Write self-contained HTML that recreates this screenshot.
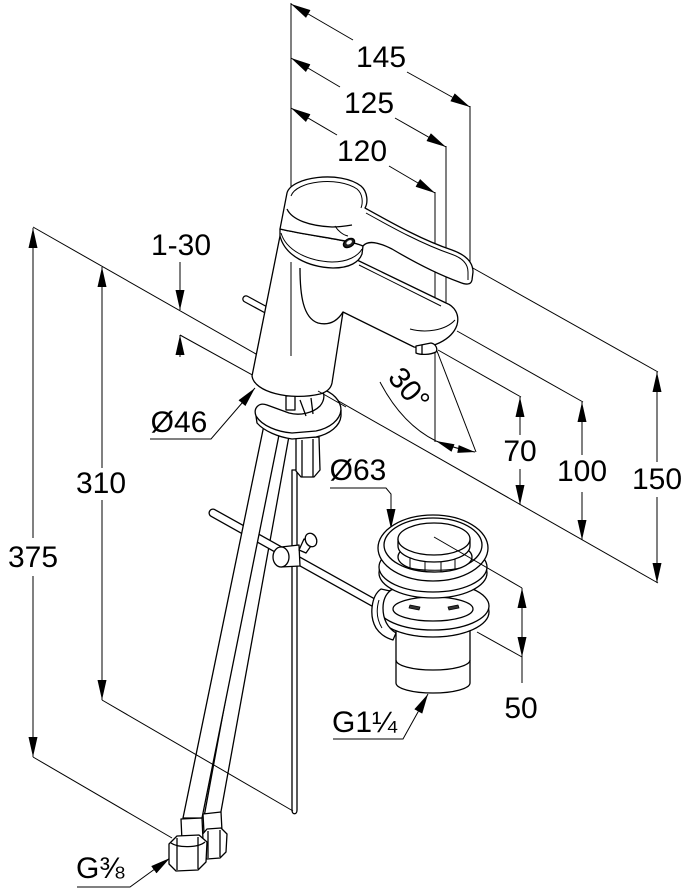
<!DOCTYPE html>
<html><head><meta charset="utf-8"><style>
html,body{margin:0;padding:0;background:#fff;}
svg{display:block;}
text{font-family:"Liberation Sans",Arial,sans-serif;font-size:30px;fill:#000;stroke:none;}
</style></head><body>
<svg width="686" height="895" viewBox="0 0 686 895" xmlns="http://www.w3.org/2000/svg">
<defs>
<marker id="a" markerUnits="userSpaceOnUse" markerWidth="20" markerHeight="10" viewBox="0 0 20 10" refX="20" refY="5" orient="auto-start-reverse"><path d="M0,0.5L20,5L0,9.5Z" fill="#000" stroke="none"/></marker>
<clipPath id="op"><ellipse cx="435" cy="557" rx="37" ry="15"/></clipPath>
</defs>

<!-- ===== dimension & extension lines ===== -->
<g fill="none" stroke="#000" stroke-width="1">
 <line x1="291" y1="3" x2="291" y2="356"/>
 <path d="M353,40 L291,4" marker-end="url(#a)"/>
 <path d="M407,72 L470,107" marker-end="url(#a)"/>
 <line x1="470" y1="106" x2="470" y2="268"/>
 <path d="M340,87 L291,58" marker-end="url(#a)"/>
 <path d="M395,118 L446,147" marker-end="url(#a)"/>
 <line x1="446" y1="146" x2="446" y2="324"/>
 <path d="M337,135 L291,108" marker-end="url(#a)"/>
 <path d="M389,166 L435,193" marker-end="url(#a)"/>
 <line x1="435" y1="192" x2="435" y2="442"/>

 <line x1="438" y1="350" x2="521" y2="397"/>
 <line x1="457" y1="331" x2="583" y2="402"/>
 <line x1="471" y1="267" x2="658" y2="372"/>
 <line x1="33" y1="227" x2="658" y2="583"/>
 <path d="M520,435 L520,397" marker-end="url(#a)"/>
 <path d="M520,469 L520,505" marker-end="url(#a)"/>
 <path d="M582,455 L582,402" marker-end="url(#a)"/>
 <path d="M582,492 L582,540" marker-end="url(#a)"/>
 <path d="M657,462 L657,372" marker-end="url(#a)"/>
 <path d="M657,497 L657,583" marker-end="url(#a)"/>

 <!-- 30 deg -->
 <line x1="437" y1="351" x2="476" y2="452"/>
 <path d="M380,382 C392,405 410,428 436,441"/>
 <path d="M436,441 Q456,449 475,452"/>

 <!-- 1-30 -->
 <path d="M180,262 L180,310" marker-end="url(#a)"/>
 <path d="M180,357 L180,335" marker-end="url(#a)"/>
 <line x1="180" y1="335" x2="256" y2="377"/>

 <!-- 375 / 310 -->
 <path d="M33,538 L33,228" marker-end="url(#a)"/>
 <path d="M33,576 L33,757" marker-end="url(#a)"/>
 <line x1="33" y1="757" x2="172" y2="838"/>
 <path d="M102,468 L102,267" marker-end="url(#a)"/>
 <path d="M102,500 L102,700" marker-end="url(#a)"/>

 <!-- leaders -->
 <path d="M330,488 L386,488 L391,494 L391,529" marker-end="url(#a)"/>
 <path d="M333,739 L403,739 L428,694" marker-end="url(#a)"/>
 <path d="M77,887 L130,887 L170,858" marker-end="url(#a)"/>

 <!-- 50 -->
 <path d="M522,588 L522,657" marker-start="url(#a)" marker-end="url(#a)"/>
 <line x1="522" y1="657" x2="522" y2="683"/>
 <line x1="477" y1="632" x2="522" y2="657"/>
</g>
<g fill="#000" stroke="none">
 <path d="M436,441 L451.5,451.7 L454.5,444.3 Z"/>
 <path d="M475,452 L457.3,452.9 L458.7,445.1 Z"/>
</g>

<!-- ===== faucet & parts ===== -->
<g fill="#fff" stroke="#000" stroke-width="1.3" stroke-linejoin="round">
 <!-- small lift rod behind body -->
 <line x1="246" y1="299" x2="270" y2="312" stroke-width="7.5" stroke-linecap="round"/>
 <line x1="246" y1="299" x2="270" y2="312" stroke="#fff" stroke-width="5" stroke-linecap="round"/>

 <!-- hose B -->
 <path d="M276,425 L291,425 L220,817 L204,817 Z"/>
 <!-- horizontal rod -->
 <line x1="213" y1="513" x2="376" y2="604" stroke-width="9" stroke-linecap="round"/>
 <line x1="213" y1="513" x2="376" y2="604" stroke="#fff" stroke-width="6.4" stroke-linecap="round"/>
 <!-- hose A -->
 <path d="M264,425 L281,425 L202,818 L183,818 Z"/>

 <!-- bottom fittings B -->
 <path d="M203,814 L221,812 L222,831 L204,833 Z"/>
 <path d="M201,836 L207,829 L221,828 L227,834 L226,852 L220,858 L207,859 L202,853 Z"/>
 <line x1="208" y1="831" x2="208" y2="858"/>
 <line x1="220" y1="830" x2="220" y2="857"/>
 <!-- bottom fittings A -->
 <path d="M181,819 L202,818 L203,840 L182,841 Z"/>
 <path d="M169,844 L177,836 L199,835 L207,842 L206,862 L198,870 L176,871 L169,864 Z"/>
 <line x1="177" y1="838" x2="177" y2="870"/>
 <line x1="198" y1="837" x2="198" y2="869"/>
 <path d="M171,843 C178,848 198,848 205,842" fill="none"/>

 <!-- vertical pop-up rod -->
 <path d="M292,470 L292,810 C292,815 297,815 297,810 L297,470 Z"/>

 <!-- clamp -->
 <path d="M281,547 L299,545 L300,566 L281,567 Z"/>
 <path d="M299,550 L304,539 L313,543 L306,553 Z"/>
 <ellipse cx="311" cy="540" rx="5.5" ry="7" transform="rotate(-25 311 540)"/>
 <ellipse cx="281" cy="557" rx="8" ry="10"/>

 <!-- hex nut under plate -->
 <path d="M296,438 L319,437 L320,470 L314,477 L301,477 L296,471 Z"/>
 <line x1="302" y1="440" x2="302" y2="477"/>
 <line x1="313" y1="439" x2="313" y2="477"/>

 <!-- horseshoe plate -->
 <path d="M256,416 C253,408 259,402 267,405 L289,413 C300,416 313,413 320,406 C325,400 325,393 321,389 C333,392 341,401 341,410 L341,416 C340,426 330,434 316,437 L292,439 C278,437 264,431 257,423 Z"/>
 <path d="M256,416 C262,426 278,432 292,433 L316,431 C330,428 340,420 341,410" fill="none"/>
 <!-- fittings under body -->
 <path d="M286,396 L295,396 L295,410 L286,410 Z"/>
 <line x1="300" y1="400" x2="306" y2="416"/>
 <line x1="311" y1="398" x2="313" y2="414"/>

 <!-- trunk + spout -->
 <path d="M280,236 L252,376 C254,392 290,401 320,394 C327,392 331,388 332,383 L343,312 L414,347 C430,350 452,340 457,325 C460,314 454,306 446,303 L357,260 Z"/>
 <path d="M300,268 C300,295 303,318 318,323 C330,326 338,320 343,312" fill="none"/>
 <path d="M359,265 L441,306" fill="none" stroke-width="1"/>
 <path d="M410,329 C425,333 445,331 455,320" fill="none" stroke-width="1"/>
 <!-- aerator -->
 <path d="M416,346 L431,343 C436,344 438,349 436,352 C430,355 420,355 416,353 Z"/>
 <line x1="422" y1="345" x2="422" y2="354"/>

 <!-- ring -->
 <path d="M280,229 L280,236 C285,256 308,267 333,268 C350,268 359,262 362,254 L363,246 C350,240 310,236 280,229 Z"/>
 <path d="M281,233 C286,250 307,261 332,262 C348,262 358,256 362,249" fill="none" stroke-width="1"/>

 <!-- head + lever -->
 <path d="M287,193 C291,177 340,170 361,186 C368,192 368,203 365,208 C392,223 422,240 452,250 C466,255 473,262 473,272 L472,280 C471,285 466,285 459,282 C437,274 414,262 392,249 C378,242 368,240 363,246 C350,240 310,236 280,229 Z"/>
 <path d="M291,196 C296,181 338,176 357,189 C363,194 363,203 361,208" fill="none" stroke-width="1"/>
 <path d="M366,213 C393,228 422,244 451,254 C463,258 468,264 468,272 L468,280" fill="none" stroke-width="1"/>
 <path d="M287,209 C292,220 310,226 332,227 C340,227 346,226 352,225" fill="none"/>
 <path d="M335,226 C338,231 343,235 348,236" fill="none" stroke-width="1"/>
 <ellipse cx="349" cy="243" rx="6" ry="4" transform="rotate(-30 349 243)" fill="#222"/>
 <ellipse cx="349.5" cy="242.5" rx="3" ry="1.8" transform="rotate(-30 349 243)" fill="#fff" stroke="none"/>

 <!-- ===== drain ===== -->
 <path d="M396,628 L396,683 A37,10 0 0 0 470,683 L470,628 Z"/>
 <path d="M396,660 A37,10 0 0 0 470,660" fill="none"/>
 <ellipse cx="433" cy="612" rx="56" ry="25"/>
 <ellipse cx="433" cy="606" rx="56" ry="24"/>
 <ellipse cx="433" cy="609" rx="40" ry="12"/>
 <path d="M410,605 L420,607 L419,610 L409,608 Z" fill="#333" stroke-width="0.8"/>
 <path d="M448,607 L458,605 L459,608 L449,610 Z" fill="#333" stroke-width="0.8"/>
 <ellipse cx="433" cy="573" rx="54" ry="25"/>
 <ellipse cx="433" cy="567" rx="54" ry="25"/>
 <ellipse cx="433" cy="548" rx="55" ry="33"/>
 <ellipse cx="433" cy="545" rx="49" ry="27"/>
 <ellipse cx="435" cy="557" rx="37" ry="15"/>
 <g clip-path="url(#op)" fill="none" stroke-width="1">
  <line x1="410" y1="548" x2="410" y2="575"/>
  <line x1="425" y1="548" x2="425" y2="575"/>
  <line x1="441" y1="548" x2="441" y2="575"/>
  <line x1="455" y1="548" x2="455" y2="575"/>
  <path d="M400,565 C415,572 455,572 470,565"/>
 </g>
 <path d="M398,539 L398,546 A36,16 0 0 0 470,546 L470,539 Z"/>
 <ellipse cx="434" cy="539" rx="36" ry="16"/>
 <!-- overflow bracket -->
 <path d="M381,589 C371,596 369,616 376,628 C380,634 386,638 393,640 L396,633 C388,628 383,620 383,608 C383,600 386,594 390,591 Z"/>
 <path d="M379,600 C376,610 377,620 382,628" fill="none" stroke-width="1"/>
</g>

<!-- overlay lines -->
<g fill="none" stroke="#000" stroke-width="1">
 <line x1="291" y1="262" x2="291" y2="356"/>
 <line x1="318" y1="391" x2="346" y2="407"/>
 <line x1="102" y1="700" x2="293" y2="811"/>
 <line x1="434" y1="537" x2="522" y2="588"/>
 <path d="M150,439 L211,439 L255,388" marker-end="url(#a)"/>
</g>

<!-- text -->
<g text-anchor="middle">
 <text x="381" y="67">145</text>
 <text x="369" y="113">125</text>
 <text x="362" y="161">120</text>
 <text x="181" y="255">1-30</text>
 <text x="179" y="432">Ø46</text>
 <text x="101" y="493">310</text>
 <text x="33" y="567">375</text>
 <text x="520" y="461">70</text>
 <text x="582" y="481">100</text>
 <text x="657" y="489">150</text>
 <text x="358" y="480">Ø63</text>
 <text x="521" y="718">50</text>
 <text transform="translate(409,389) rotate(50)" x="0" y="10" font-size="28">30°</text>
</g>
<text x="332" y="732">G1¼</text>
<text x="76" y="878" font-size="29">G⅜</text>
</svg>
</body></html>
